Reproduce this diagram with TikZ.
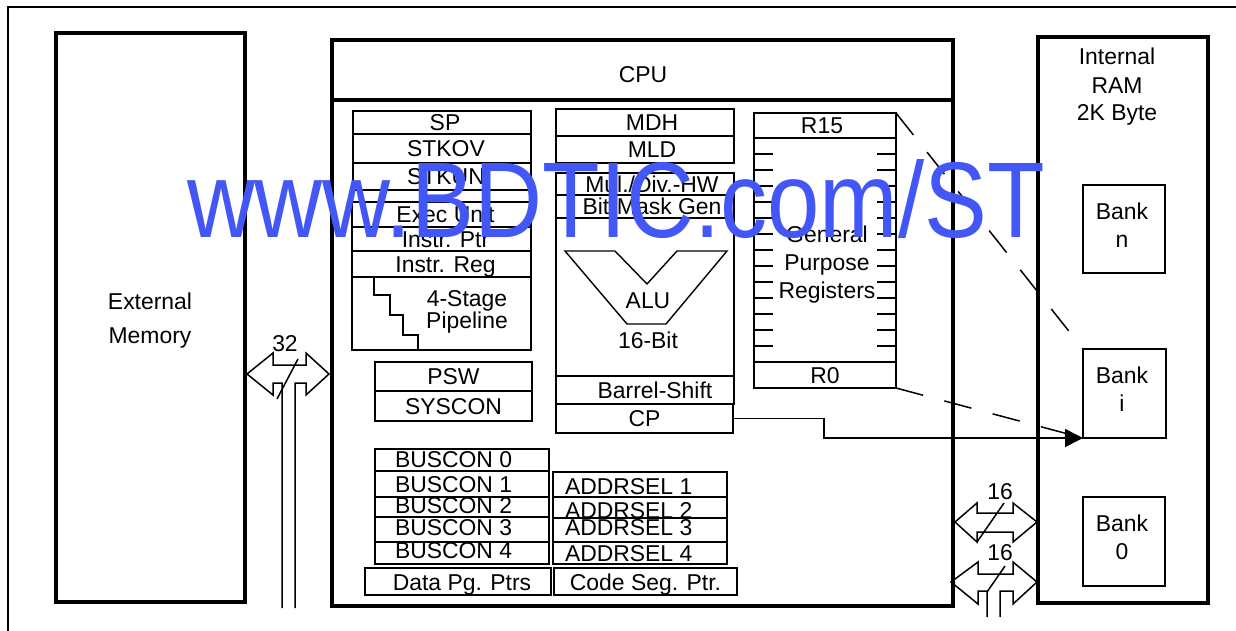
\documentclass[tikz,border=0pt]{standalone}
\usepackage{fontspec}
\setmainfont{Liberation Sans}
\usepackage{graphicx}
\usetikzlibrary{fit,arrows.meta}
\definecolor{wmblue}{RGB}{66,87,245}
\newcommand\regbox[7][]{%
  \node[bx,fit={(#3,#4) (#5,#6)}] (#2) {};
  \node[txt,#1] (#2-t) at (#2.center) {#7};}
\begin{document}
\begin{tikzpicture}[x=1bp,y=-1bp,
  every node/.style={inner sep=0pt, outer sep=0pt},
  txt/.style={font=\fontsize{23}{26}\selectfont, text height=16.2bp, text depth=0bp},
  bx/.style={draw, line width=1.6bp, inner sep=0pt},
  big/.style={draw, line width=3.8bp, inner sep=0pt},
  regtick/.style={line width=1.3bp},
  bus/.style={line width=1.5bp, line join=miter},
  dashline/.style={line width=1.5bp, dash pattern=on 28bp off 22bp},
  conn/.style={line width=1.6bp, -{Triangle[length=18bp,width=18bp]}}
]
\useasboundingbox (0,0) rectangle (1236,631);

% outer frame
\coordinate (fa) at (8,631);
\coordinate (fb) at (8,7);
\coordinate (fc) at (1236,7);
\draw[line width=2.5bp] (fa) -- (fb) -- (fc);

% external memory
\node[big,fit={(56,33) (245,602)}] (ext) {};
\node[txt] (ext-t1) at (150,301) {External};
\node[txt] (ext-t2) at (150,335) {Memory};

% CPU
\node[big,fit={(332,40) (953,606)}] (cpu) {};
\draw[line width=3.5bp] (cpu.west |- 0,100) -- (cpu.east |- 0,100);
\node[txt] (cpu-t) at (643,74) {CPU};

% internal RAM
\node[big,fit={(1038,37) (1208,603)}] (ram) {};
\node[txt] (ram-t1) at (1117,56.5) {Internal};
\node[txt] (ram-t2) at (1117,85) {RAM};
\node[txt] (ram-t3) at (1117,112.5) {2K Byte};

\node[bx,fit={(1083,185) (1165,273)}] (bankn) {};
\node[txt] (bankn-t1) at (1122,211) {Bank};
\node[txt] (bankn-t2) at (1122,239) {n};
\node[bx,fit={(1083,349) (1166,438)}] (banki) {};
\node[txt] (banki-t1) at (1122,375.5) {Bank};
\node[txt] (banki-t2) at (1122,403.5) {i};
\node[bx,fit={(1083,497) (1165,586)}] (bank0) {};
\node[txt] (bank0-t1) at (1122,523.5) {Bank};
\node[txt] (bank0-t2) at (1122,551.5) {0};

% left column
\regbox[xshift=3bp]{sp}{353}{111}{531}{134}{SP}
\regbox[xshift=4bp]{stkov}{353}{134}{531}{163}{STKOV}
\regbox[xshift=4bp]{stkun}{353}{163}{531}{190}{STKUN}
\regbox[xshift=4bp]{exec}{352}{202}{531}{227}{Exec Unit}
\regbox[xshift=4bp]{iptr}{352}{227}{531}{251}{Instr. Ptr}
\regbox[xshift=4bp]{ireg}{352}{251}{531}{277}{Instr. Reg}
\regbox{pipe}{352}{277}{531}{350}{}
\draw[line width=1.6bp] (374,277) -- (374,295) -- (390,295) -- (390,315) -- (403,315) -- (403,335) -- (418,335) -- (418,350);
\node[txt] (pipe-t1) at (467,298) {4-Stage};
\node[txt] (pipe-t2) at (467,320) {Pipeline};
\regbox{psw}{375}{362}{532}{391}{PSW}
\regbox{syscon}{375}{391}{532}{421}{SYSCON}

% middle column
\regbox[xshift=7bp]{mdh}{556}{109}{734}{136}{MDH}
\regbox[xshift=7bp]{mld}{556}{136}{734}{163}{MLD}
\regbox[xshift=7bp]{mul}{556}{173}{734}{195}{Mul./Div.-HW}
\regbox[xshift=7bp]{bmg}{556}{195}{734}{218}{Bit-Mask Gen}
\regbox{alub}{556}{218}{734}{376}{}
\draw[line width=1.4bp] (565,251) -- (615,251) -- (647,284) -- (677,251) -- (727,251) -- (666,324) -- (627,324) -- cycle;
\node[txt] (alu-t1) at (648,300.5) {ALU};
\node[txt] (alu-t2) at (648,340.5) {16-Bit};
\regbox[xshift=10bp]{bsh}{556}{376}{734}{404}{Barrel-Shift}
\regbox{cp}{556}{404}{733}{433}{CP}

% general purpose registers
\regbox[xshift=-3bp]{r15}{754}{113}{896}{138}{R15}
\regbox{gpr}{754}{138}{896}{362}{}
\regbox{r0}{754}{362}{896}{388}{R0}
\foreach \k in {1,...,13}{
  \draw[regtick] (754,{138+16*\k}) -- (773,{138+16*\k});
  \draw[regtick] (877,{138+16*\k}) -- (896,{138+16*\k});
}
\node[txt] (gpr-t1) at (827,234.5) {General};
\node[txt] (gpr-t2) at (827,262.5) {Purpose};
\node[txt] (gpr-t3) at (827,290.5) {Registers};

% bus control
\regbox{bc0}{375}{449}{549}{471}{}
\regbox{bc1}{375}{471}{549}{497}{}
\regbox{bc2}{375}{497}{549}{517}{}
\regbox{bc3}{375}{517}{549}{542}{}
\regbox{bc4}{375}{542}{549}{564}{}
\node[txt,anchor=west] (bc0-l) at (395,459.5) {BUSCON 0};
\node[txt,anchor=west] (bc1-l) at (395,484.5) {BUSCON 1};
\node[txt,anchor=west] (bc2-l) at (395,505.5) {BUSCON 2};
\node[txt,anchor=west] (bc3-l) at (395,527.5) {BUSCON 3};
\node[txt,anchor=west] (bc4-l) at (395,550) {BUSCON 4};
\regbox{as1}{553}{472}{727}{497}{}
\regbox{as2}{553}{497}{727}{518}{}
\regbox{as3}{553}{518}{727}{542}{}
\regbox{as4}{553}{542}{727}{564}{}
\node[txt,anchor=west] (as1-l) at (565,486) {ADDRSEL 1};
\node[txt,anchor=west] (as2-l) at (565,510.5) {ADDRSEL 2};
\node[txt,anchor=west] (as3-l) at (565,527) {ADDRSEL 3};
\node[txt,anchor=west] (as4-l) at (565,553.5) {ADDRSEL 4};
\regbox[xshift=4bp,yshift=-1bp]{dpp}{365}{568}{551}{595}{Data Pg. Ptrs}
\regbox[yshift=-1bp]{csp}{554}{568}{737}{595}{Code Seg. Ptr.}

% connectors
\draw[dashline] (r15.north east) -- (banki.north west);
\draw[dashline] (r0.south east) -- (banki.south west);
\coordinate (bend1) at (824,419);
\coordinate (bend2) at (824,438);
\draw[conn] (cp.east) -- (cp.east -| bend1) -- (bend2) -- (banki.south west);

% 32-bit bus
\draw[bus] (295,608) -- (295,383) -- (306,383) -- (306,395) -- (329,374) -- (306,353) -- (306,365) -- (273,365) -- (273,353) -- (247,374) -- (273,395) -- (273,383) -- (282,383) -- (282,608);
\draw[bus] (277,399) -- (298,359);
\node[txt] (b32) at (285,343) {32};

% 16-bit buses
\draw[bus] (955,522) -- (977,503) -- (977,513) -- (1013,513) -- (1013,503) -- (1037,522) -- (1013,542) -- (1013,532) -- (977,532) -- (977,542) -- cycle;
\draw[bus] (977,542) -- (1004,503);
\node[txt] (b16a) at (1000,491) {16};
\draw[bus] (1000,617) -- (1000,591) -- (1013,591) -- (1013,604) -- (1037,582) -- (1013,562) -- (1013,574) -- (978,574) -- (978,562) -- (951,582) -- (978,604) -- (978,591) -- (987,591) -- (987,617);
\draw[bus] (987,592) -- (1005,566);
\node[txt] (b16b) at (1000,552) {16};

% watermark
\node[anchor=base west, text=wmblue, font=\fontsize{108}{110}\selectfont] (wm) at (187,238) {\scalebox{0.875}[1]{www.BDTIC.com/ST}};
\end{tikzpicture}
\end{document}
